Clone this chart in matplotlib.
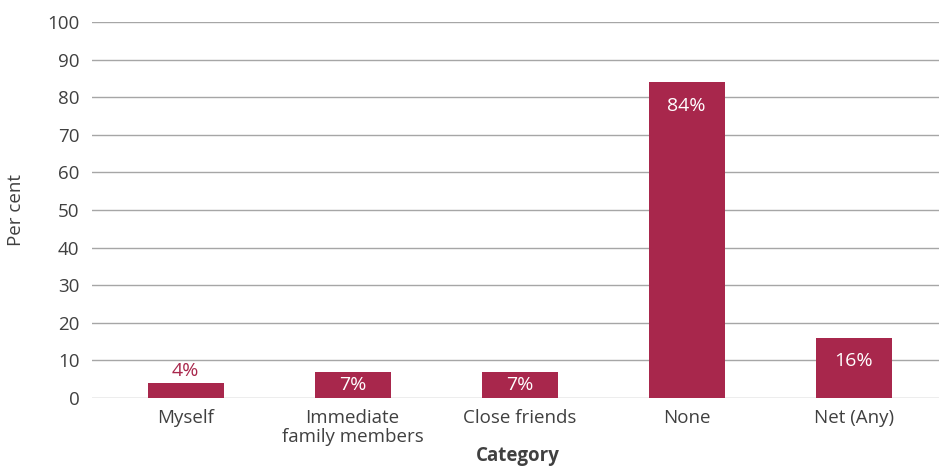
import matplotlib
matplotlib.use("Agg")
import matplotlib.pyplot as plt

plt.rcParams['font.family'] = ['Open Sans', 'DejaVu Sans']

categories = ['Myself', 'Immediate\nfamily members', 'Close friends', 'None', 'Net (Any)']
values = [4, 7, 7, 84, 16]
labels = ['4%', '7%', '7%', '84%', '16%']

bar_colour = '#A8274C'
text_colour = '#404040'

fig = plt.figure(figsize=(9.39, 4.67), dpi=100)
ax = fig.add_axes([0.098, 0.1478, 0.902, 0.8051])

x = list(range(len(categories)))
ax.bar(x, values, width=0.455, color=bar_colour, zorder=3)

# value labels: tiny bars get theirs above, short bars centred, tall bars near the top
for xi, v, lab in zip(x, values, labels):
    if v < 5:
        ax.annotate(lab, (xi, v), xytext=(0, 2), textcoords='offset points',
                    ha='center', va='bottom', fontsize=14, color=bar_colour)
    elif v < 10:
        ax.text(xi, v / 2, lab, ha='center', va='center', fontsize=14, color='white')
    else:
        ax.annotate(lab, (xi, v), xytext=(0, -17), textcoords='offset points',
                    ha='center', va='center', fontsize=14, color='white')

ax.set_ylim(0, 100)
ax.set_yticks(range(0, 101, 10))
ax.set_xlim(-0.56, 4.51)
ax.set_xticks(x)
ax.set_xticklabels(categories, fontsize=13.5, color=text_colour, linespacing=1.05)
ax.tick_params(axis='y', labelsize=13.5, labelcolor=text_colour, length=0, pad=9)
ax.tick_params(axis='x', length=0, pad=8)

ax.yaxis.grid(True, color='#A6A6A6', linewidth=1.0, zorder=0)
for s in ax.spines.values():
    s.set_visible(False)

ax.set_ylabel('Per cent', fontsize=13.5, color=text_colour, labelpad=16)
# axis title sits centred under the middle category
fig.text(0.551, 0.024, 'Category', ha='center', va='center', fontsize=13.5,
         fontweight='bold', color=text_colour)

fig.savefig('out.png', dpi=100)
